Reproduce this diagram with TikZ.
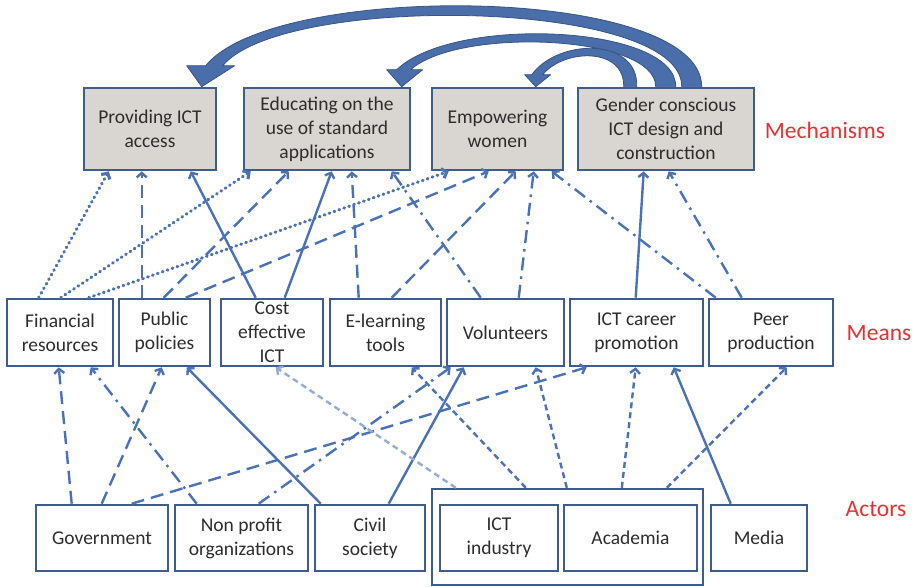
\documentclass[tikz,border=0pt]{standalone}
\usepackage{fontspec}
\setmainfont{Carlito}
\usetikzlibrary{arrows.meta,calc}
\definecolor{linecol}{RGB}{74,114,180}
\definecolor{boxcol}{RGB}{62,92,140}
\definecolor{mechfill}{RGB}{217,213,208}
\definecolor{lightcol}{RGB}{150,172,208}
\definecolor{redtxt}{RGB}{232,48,48}
\definecolor{txtcol}{RGB}{45,45,45}
\definecolor{curvecol}{RGB}{74,110,170}
\definecolor{curveedge}{RGB}{55,85,135}
\begin{document}
\begin{tikzpicture}[x=1pt,y=-1pt,
  bx/.style={draw=boxcol, line width=2.6pt, text=txtcol, font=\fontsize{19.5}{24}\selectfont, align=center, inner sep=0pt},
  mech/.style={bx, fill=mechfill, minimum height=82pt},
  meanbox/.style={bx, fill=white, minimum height=67pt},
  actbox/.style={bx, fill=white, minimum height=66pt},
  lbl/.style={text=redtxt, font=\fontsize{23.5}{28}\selectfont, inner sep=0pt},
  conn/.style={draw=linecol, line width=2.4pt, -{Straight Barb[length=4.5pt,width=10pt]}},
  solidc/.style={conn},
  longdash/.style={conn, dash pattern=on 13pt off 7pt},
  dashdot/.style={conn, dash pattern=on 13pt off 6pt on 2.5pt off 6pt},
  dotc/.style={conn, line width=3.1pt, line cap=round, dash pattern=on 0.8pt off 4.4pt},
  shortdash/.style={conn, dash pattern=on 6pt off 4pt},
  lightdash/.style={shortdash, draw=lightcol},
  curvearr/.style={fill=curvecol, draw=curveedge, line width=0.8pt, line join=round}
]
\useasboundingbox (0,0) rectangle (915,586);

% Mechanisms
\node[mech, minimum width=132pt] (m1) at (150,129) {Providing ICT\\access};
\node[mech, minimum width=166pt] (m2) at (327,129) {Educating on the\\use of standard\\applications};
\node[mech, minimum width=131pt] (m3) at (497.5,129) {Empowering\\women};
\node[mech, minimum width=176pt] (m4) at (666,129) {Gender conscious\\ICT design and\\construction};
\node[lbl] (lmech) at (825,130) {Mechanisms};

% Means
\node[meanbox, minimum width=106pt] (fin) at (60,332.5) {Financial\\resources};
\node[meanbox, minimum width=91pt] (pub) at (164.5,332.5) {Public\\policies};
\node[meanbox, minimum width=102pt] (cost) at (272,332.5) {Cost\\effective\\ICT};
\node[meanbox, minimum width=111pt] (elearn) at (385.5,332.5) {E-learning\\tools};
\node[meanbox, minimum width=117pt] (vol) at (505.5,332.5) {Volunteers};
\node[meanbox, minimum width=133pt] (career) at (636.5,332.5) {ICT career\\promotion};
\node[meanbox, minimum width=124pt] (peer) at (771,332.5) {Peer\\production};
\node[lbl] (lmeans) at (879,333) {Means};

% Actors
\node[draw=boxcol, line width=2.4pt, minimum width=271pt, minimum height=96pt, inner sep=0pt] (grp) at (567.5,537) {};
\node[actbox, minimum width=132pt] (gov) at (102,538) {Government};
\node[actbox, minimum width=133pt] (np) at (241.5,538) {Non profit\\organizations};
\node[actbox, minimum width=110pt] (cs) at (370,538) {Civil\\society};
\node[actbox, minimum width=118pt] (ict) at (499,538) {ICT\\industry};
\node[actbox, minimum width=133pt] (acad) at (630.5,538) {Academia};
\node[actbox, minimum width=96pt] (media) at (759,538) {Media};
\node[lbl] (lact) at (876,509) {Actors};

% Means -> Mechanisms
\draw[dotc] ($(fin.north west)+(33,0)$) -- ($(m1.south west)+(26,0)$);
\draw[dotc] ($(fin.north west)+(55,0)$) -- ($(m2.south west)+(8,0)$);
\draw[dotc] ($(fin.north west)+(83,0)$) -- ($(m3.south west)+(18,0)$);
\draw[longdash] ($(pub.north west)+(24,0)$) -- ($(m1.south west)+(59,0)$);
\draw[longdash] ($(pub.north west)+(46,0)$) -- ($(m2.south west)+(46,0)$);
\draw[longdash] ($(pub.north west)+(68,0)$) -- ($(m3.south west)+(58,0)$);
\draw[solidc] ($(cost.north west)+(36,0)$) -- ($(m1.south west)+(108,0)$);
\draw[solidc] ($(cost.north west)+(65,0)$) -- ($(m2.south west)+(89,0)$);
\draw[longdash] ($(elearn.north west)+(30,0)$) -- ($(m2.south west)+(109,0)$);
\draw[longdash] ($(elearn.north west)+(63,0)$) -- ($(m3.south west)+(85,0)$);
\draw[dashdot] ($(vol.north west)+(35,0)$) -- ($(m2.south west)+(149,0)$);
\draw[dashdot] ($(vol.north west)+(73,0)$) -- ($(m3.south west)+(103,0)$);
\draw[dashdot] ($(peer.north west)+(8,0)$) -- ($(m3.south west)+(121,0)$);
\draw[dashdot] ($(peer.north west)+(34,0)$) -- ($(m4.south west)+(92,0)$);
\draw[solidc] ($(career.north west)+(67,0)$) -- ($(m4.south west)+(67,0)$);

% Actors -> Means
\draw[longdash] ($(gov.north west)+(37,0)$) -- ($(fin.south west)+(53,0)$);
\draw[longdash] ($(gov.north west)+(67,0)$) -- ($(pub.south west)+(44,0)$);
\draw[longdash] ($(gov.north west)+(97,0)$) -- ($(career.south west)+(18,0)$);
\draw[dashdot] ($(np.north west)+(23,0)$) -- ($(fin.south west)+(85,0)$);
\draw[dashdot] ($(np.north west)+(85,0)$) -- ($(vol.south west)+(5,0)$);
\draw[solidc] ($(cs.north west)+(7,0)$) -- ($(pub.south west)+(69,0)$);
\draw[solidc] ($(cs.north west)+(75,0)$) -- ($(vol.south west)+(18,0)$);
\draw[lightdash] ($(grp.north west)+(25,0)$) -- ($(cost.south west)+(56,0)$);
\draw[shortdash] ($(grp.north west)+(95,0)$) -- ($(elearn.south west)+(83,0)$);
\draw[shortdash] ($(grp.north west)+(136,0)$) -- ($(vol.south west)+(90,0)$);
\draw[shortdash] ($(grp.north west)+(191,0)$) -- ($(career.south west)+(67,0)$);
\draw[shortdash] ($(grp.north west)+(236,0)$) -- ($(peer.south west)+(79,0)$);
\draw[solidc] ($(media.north west)+(21,0)$) -- ($(career.south west)+(105,0)$);

% Curved feedback arrows (tapered), Gender conscious -> other mechanisms
\filldraw[curvearr]
  ($(m4.north west)+(125,0)$) .. controls +(0,-102) and +(68,-85) .. ($(m1.north west)+(123,-21)$)
  -- ($(m1.north west)+(104,-21)$) -- ($(m1.north west)+(119,0)$) -- ($(m1.north west)+(152,-21)$)
  -- ($(m1.north west)+(140,-21)$) .. controls +(61,-73) and +(1,-88) .. ($(m4.north west)+(105,0)$) -- cycle;
\filldraw[curvearr]
  ($(m4.north west)+(99,0)$) .. controls +(1,-62) and +(57,-55) .. ($(m2.north west)+(154,-17)$)
  -- ($(m2.north west)+(144,-17)$) -- ($(m2.north west)+(159,0)$) -- ($(m2.north west)+(180,-17)$)
  -- ($(m2.north west)+(168,-17)$) .. controls +(48,-43) and +(0,-52) .. ($(m4.north west)+(79,0)$) -- cycle;
\filldraw[curvearr]
  ($(m4.north west)+(60,0)$) .. controls +(2,-49) and +(27,-37) .. ($(m3.north west)+(101,-12)$)
  -- ($(m3.north west)+(94,-12)$) -- ($(m3.north west)+(105,0)$) -- ($(m3.north west)+(120,-12)$)
  -- ($(m3.north west)+(112,-12)$) .. controls +(21,-26) and +(1,-40) .. ($(m4.north west)+(47,0)$) -- cycle;
\end{tikzpicture}
\end{document}
